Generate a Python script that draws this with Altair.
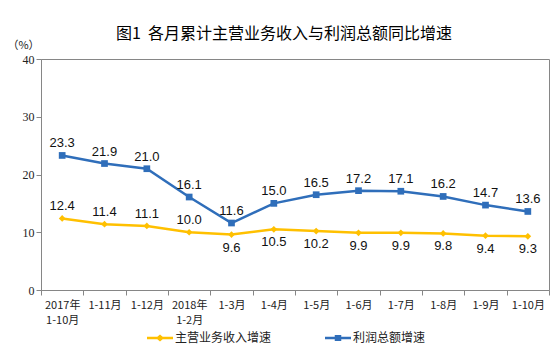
import altair as alt
import pandas as pd

categories = ["2017年|1-10月", "1-11月", "1-12月", "2018年|1-2月", "1-3月", "1-4月",
              "1-5月", "1-6月", "1-7月", "1-8月", "1-9月", "1-10月"]
revenue = [12.4, 11.4, 11.1, 10.0, 9.6, 10.5, 10.2, 9.9, 9.9, 9.8, 9.4, 9.3]
profit = [23.3, 21.9, 21.0, 16.1, 11.6, 15.0, 16.5, 17.2, 17.1, 16.2, 14.7, 13.6]
revenue_label_above = [True, True, True, True, False, False, False, False, False, False, False, False]
series_names = ["主营业务收入增速", "利润总额增速"]
y_ticks = [0, 10, 20, 30, 40]

YELLOW = "#FFC000"
BLUE = "#2F6EBA"
GRAY = "#868686"

rows = []
for i, c in enumerate(categories):
    rows.append({"cat": c, "series": series_names[0], "value": revenue[i],
                 "above": revenue_label_above[i], "order": i})
    rows.append({"cat": c, "series": series_names[1], "value": profit[i],
                 "above": True, "order": i})
df = pd.DataFrame(rows)

x_enc = alt.X("cat:N", sort=categories,
              scale=alt.Scale(type="band", paddingInner=0, paddingOuter=0),
              axis=alt.Axis(title=None, labelExpr="split(datum.label, '|')",
                            tickBand="extent", labelAngle=0, labelFontSize=11,
                            labelFont="Noto Sans CJK SC", labelColor="#222",
                            labelPadding=4, tickSize=5, tickColor=GRAY,
                            domainColor=GRAY, labelLineHeight=15))
y_enc = alt.Y("value:Q", scale=alt.Scale(domain=[0, 40], nice=False),
              axis=alt.Axis(values=y_ticks, title="（%）", titleAngle=0,
                            titleX=-18, titleY=-9, titleAlign="center",
                            titleBaseline="bottom", titleFontSize=11,
                            titleFontWeight="normal", titleFont="Noto Sans CJK SC",
                            titleColor="#222",
                            labelFont="Liberation Serif", labelFontSize=12,
                            labelColor="#222", labelPadding=2, tickSize=5,
                            tickColor=GRAY, domainColor=GRAY, grid=False))
color_scale = alt.Scale(domain=series_names, range=[YELLOW, BLUE])
color_enc = alt.Color("series:N", scale=color_scale, legend=None)

base = alt.Chart(df)

lines = base.mark_line(strokeWidth=2.5).encode(
    x=x_enc, y=y_enc, color=color_enc, detail="series:N", order="order:Q")

points = base.mark_point(filled=True, opacity=1).encode(
    x=x_enc, y=y_enc, color=color_enc,
    shape=alt.Shape("series:N", scale=alt.Scale(domain=series_names, range=["diamond", "square"]),
                    legend=None),
    size=alt.value(45))

leg_yellow = "M-1,-0.095H1V0.095H-1Z M0,-0.27L0.32,0L0,0.27L-0.32,0Z"
leg_blue = "M-1,-0.095H1V0.095H-1Z M-0.25,-0.24H0.25V0.24H-0.25Z"
legend = alt.Legend(title=None, orient="none", direction="horizontal",
                    columns=2, legendX=106, legendY=266,
                    symbolSize=676, labelFontSize=12,
                    labelFont="Noto Sans CJK SC", labelColor="#222",
                    labelOffset=2, columnPadding=53, symbolStrokeWidth=0)

legend_layer = base.transform_filter("false").mark_point(filled=True, opacity=1).encode(
    x=x_enc, y=y_enc,
    color=alt.Color("series:N", scale=color_scale, legend=legend),
    shape=alt.Shape("series:N", scale=alt.Scale(domain=series_names, range=[leg_yellow, leg_blue]),
                    legend=legend))

labels_above = base.transform_filter("datum.above").mark_text(
    dy=-12, fontSize=13, font="Liberation Sans", color="#111", baseline="middle").encode(
    x=x_enc, y=y_enc, text=alt.Text("value:Q", format=".1f"))
labels_below = base.transform_filter("!datum.above").mark_text(
    dy=13, fontSize=13, font="Liberation Sans", color="#111", baseline="middle").encode(
    x=x_enc, y=y_enc, text=alt.Text("value:Q", format=".1f"))

chart = alt.layer(lines, points, legend_layer, labels_above, labels_below).resolve_scale(
    color="independent", shape="independent"
).properties(
    width=508, height=231,
    title=alt.TitleParams("图1\u00a0\u00a0各月累计主营业务收入与利润总额同比增速", anchor="start",
                          frame="group", dx=75, dy=21, offset=18, fontSize=16,
                          font="Noto Sans CJK SC", fontWeight="normal", color="#000"),
    padding={"left": 41, "top": 59, "right": 8, "bottom": 63},
    autosize=alt.AutoSizeParams(type="none"),
    background="white",
).configure_view(stroke=GRAY, strokeWidth=1)

chart.save("out.html", embed_options={"renderer": "svg", "actions": False})
